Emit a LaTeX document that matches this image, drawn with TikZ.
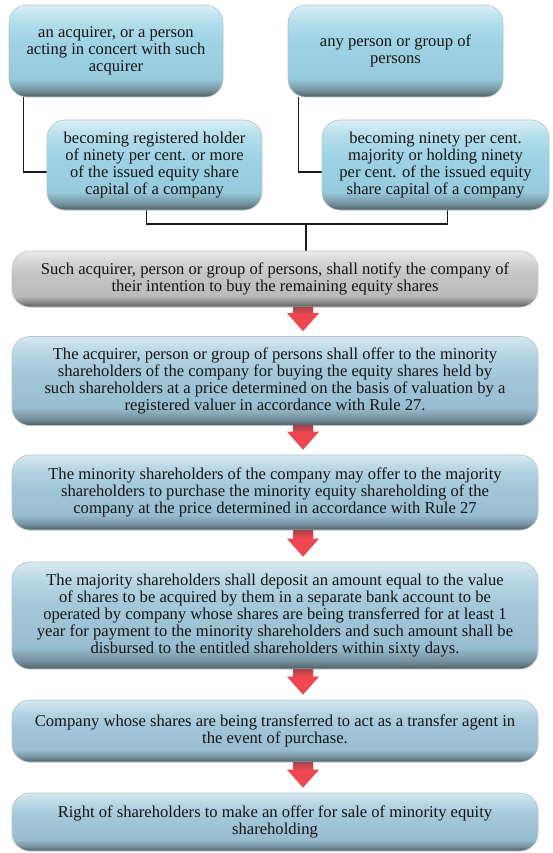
\documentclass[tikz,border=0pt]{standalone}
\usepackage{fontspec}
\setmainfont{Liberation Serif}
\usetikzlibrary{calc,backgrounds}

% colours
\definecolor{arrowred}{HTML}{EE474F}
\definecolor{arrowdark}{HTML}{A8424A}
\definecolor{linkline}{HTML}{1A1A1A}
\definecolor{boxedge}{HTML}{B4C3C9}
\definecolor{grayedge}{HTML}{C4C4C4}

% cyan boxes of the first row
\definecolor{tbA}{HTML}{4F6066}\definecolor{tbB}{HTML}{7896A1}
\definecolor{tbC}{HTML}{96CADD}\definecolor{tbD}{HTML}{9ED3E6}
\definecolor{tbE}{HTML}{B4DEEB}\definecolor{tbF}{HTML}{D8EFF6}
\pgfdeclareverticalshading{topshade}{100bp}{color(0bp)=(tbA); color(25bp)=(tbA);
  color(29bp)=(tbB); color(35bp)=(tbC); color(55bp)=(tbD); color(66bp)=(tbE);
  color(75bp)=(tbF); color(100bp)=(tbF)}

% muted blue boxes of the main column
\definecolor{mbA}{HTML}{505F65}\definecolor{mbB}{HTML}{7792A0}
\definecolor{mbC}{HTML}{98BDD0}\definecolor{mbD}{HTML}{A3C8DA}
\definecolor{mbE}{HTML}{B8D6E4}\definecolor{mbF}{HTML}{D6E9F1}
\pgfdeclareverticalshading{mainshade}{100bp}{color(0bp)=(mbA); color(25bp)=(mbA);
  color(29bp)=(mbB); color(35bp)=(mbC); color(55bp)=(mbD); color(66bp)=(mbE);
  color(75bp)=(mbF); color(100bp)=(mbF)}

% grey notice box
\definecolor{gbA}{HTML}{5A5A5A}\definecolor{gbB}{HTML}{878787}
\definecolor{gbC}{HTML}{BBBBBB}\definecolor{gbD}{HTML}{C5C5C5}
\definecolor{gbE}{HTML}{D6D6D6}\definecolor{gbF}{HTML}{EBEBEB}
\pgfdeclareverticalshading{grayshade}{100bp}{color(0bp)=(gbA); color(25bp)=(gbA);
  color(29bp)=(gbB); color(35bp)=(gbC); color(55bp)=(gbD); color(66bp)=(gbE);
  color(75bp)=(gbF); color(100bp)=(gbF)}

\tikzset{
  boxbase/.style={rectangle, rounded corners=18pt, align=center, inner sep=2pt,
    font=\fontsize{16.6}{17}\selectfont, text=black!92},
  topbox/.style={boxbase, shading=topshade, draw=boxedge, line width=0.6pt},
  mainbox/.style={boxbase, shading=mainshade, draw=boxedge, line width=0.6pt,
    minimum width=526pt},
  graybox/.style={boxbase, shading=grayshade, draw=grayedge, line width=0.6pt,
    minimum width=526pt},
  link/.style={draw=linkline, line width=1.1pt},
}

% red down arrow between two boxes of the main column
\newcommand\flowarrow[2]{%
  \path let \p1=(#1.south), \p2=(#2.north) in
    [fill=arrowred]
      (293pt,\y1) -- (313pt,\y1) -- (313pt,\y2+23pt) -- (319pt,\y2+23pt)
      -- (303pt,\y2+5pt) -- (287pt,\y2+23pt) -- (293pt,\y2+23pt) -- cycle;
  \shade let \p1=(#1.south) in
    [top color=arrowdark, bottom color=arrowred]
      (293pt,\y1) rectangle (313pt,\y1-7pt);
}

\begin{document}
\begin{tikzpicture}[x=1pt, y=-1pt]
\useasboundingbox (0,0) rectangle (553,853);

% first row: who acquires, and what they come to hold
\node[topbox, minimum width=214pt, minimum height=92pt] (tl) at (116,51)
  {an acquirer, or a person\\acting in concert with such\\acquirer};
\node[topbox, minimum width=215pt, minimum height=92pt] (tr) at (395.5,51)
  {any person or group of\\persons};
\node[topbox, minimum width=215pt, minimum height=90pt] (bl) at (154.5,165)
  {becoming registered holder\\of ninety per cent. or more\\of the issued equity share\\capital of a company};
\node[topbox, minimum width=227pt, minimum height=90pt] (br) at (435.5,165)
  {becoming ninety per cent.\\majority or holding ninety\\per cent. of the issued equity\\share capital of a company};

% main column
\node[graybox, minimum height=56pt] (notify) at (275,279)
  {Such acquirer, person or group of persons, shall notify the company of\\their intention to buy the remaining equity shares};
\node[mainbox, minimum height=89pt] (offer) at (275,381)
  {The acquirer, person or group of persons shall offer to the minority\\shareholders of the company for buying the equity shares held by\\such shareholders at a price determined on the basis of valuation by a\\registered valuer in accordance with Rule 27.};
\node[mainbox, minimum height=75pt] (minority) at (275,492.5)
  {The minority shareholders of the company may offer to the majority\\shareholders to purchase the minority equity shareholding of the\\company at the price determined in accordance with Rule 27};
\node[mainbox, minimum height=107pt] (deposit) at (275,615.5)
  {The majority shareholders shall deposit an amount equal to the value\\of shares to be acquired by them in a separate bank account to be\\operated by company whose shares are being transferred for at least 1\\year for payment to the minority shareholders and such amount shall be\\disbursed to the entitled shareholders within sixty days.};
\node[mainbox, minimum height=62pt] (agent) at (275,731)
  {Company whose shares are being transferred to act as a transfer agent in\\the event of purchase.};
\node[mainbox, minimum height=58pt] (right) at (275,822)
  {Right of shareholders to make an offer for sale of minority equity\\shareholding};

% elbow connectors, kept behind the boxes
\begin{scope}[on background layer]
  \draw[link] ([xshift=15pt]tl.south west) |- ([yshift=-7pt]bl.west);
  \draw[link] ([xshift=11pt]tr.south west) |- ([yshift=-7pt]br.west);
  \coordinate (join) at (306,224);
  \draw[link] ([xshift=-8pt]bl.south) |- (join);
  \draw[link] ([xshift=12pt]br.south) |- (join);
  \draw[link] (join) -- (join |- notify.north);
\end{scope}

% red arrows down the main column
\flowarrow{notify}{offer}
\flowarrow{offer}{minority}
\flowarrow{minority}{deposit}
\flowarrow{deposit}{agent}
\flowarrow{agent}{right}
\end{tikzpicture}
\end{document}
